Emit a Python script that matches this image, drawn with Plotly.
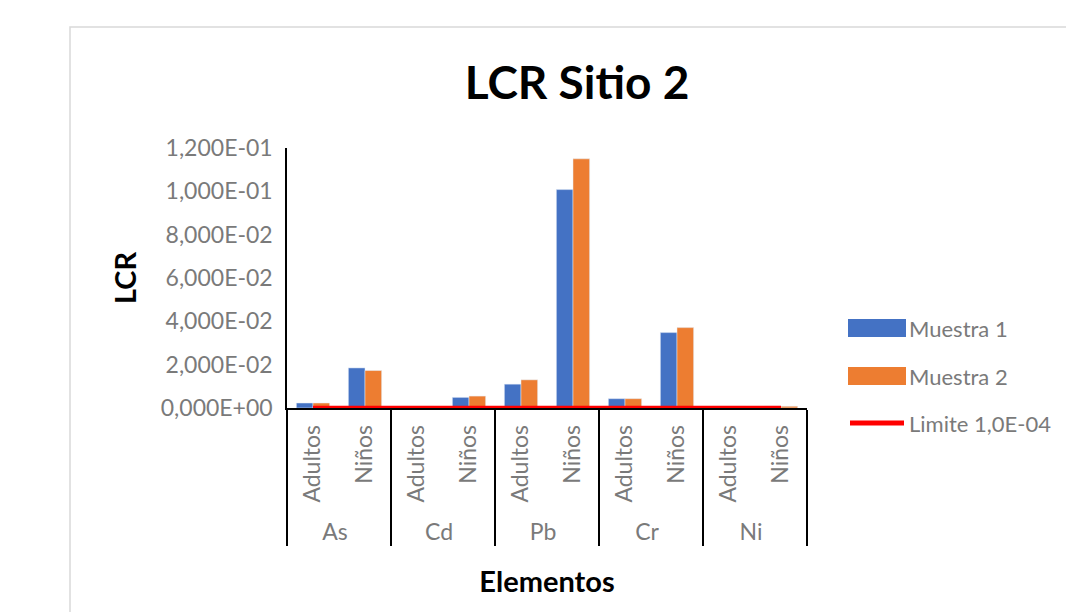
import plotly.graph_objects as go

# ---- data ----
elements = ["As", "Cd", "Pb", "Cr", "Ni"]
groups = ["Adultos", "Niños"]
series_names = ["Muestra 1", "Muestra 2", "Limite 1,0E-04"]
muestra1 = [0.0023, 0.0185, 0.0008, 0.0049, 0.0110, 0.1008, 0.0043, 0.0348, 0.0008, 0.0008]
muestra2 = [0.0023, 0.0173, 0.0008, 0.0055, 0.0130, 0.1150, 0.0043, 0.0371, 0.0008, 0.0008]
limite = [1.0e-4, 1.0e-4, 1.0e-4, 1.0e-4, 1.0e-4, 1.0e-4, 1.0e-4, 1.0e-4, 1.0e-4, 1.0e-4]
y_tickvals = [0, 0.02, 0.04, 0.06, 0.08, 0.10, 0.12]
y_ticktext = ["0,000E+00", "2,000E-02", "4,000E-02", "6,000E-02", "8,000E-02", "1,000E-01", "1,200E-01"]
title_text = "LCR Sitio 2"
x_title = "Elementos"
y_title = "LCR"

# ---- style ----
BLUE = "#4472C4"
ORANGE = "#ED7D31"
RED = "#FF0000"
GRAY = "#7A7A7A"
FONT = "Lato"

W, H = 1074, 612
OFF = 8  # page body margin
L, T = 287 - OFF, 148 - OFF
PW, PH = 520, 260
R, B = W - L - PW, H - T - PH


def px(x):
    return (x - OFF - L) / PW


def py(y):
    return (T + PH - (y - OFF)) / PH


outer = [e for e in elements for g in groups]
inner = [g for e in elements for g in groups]
xcat = [outer, inner]

fig = go.Figure()
fig.add_trace(go.Bar(x=xcat, y=muestra1, name=series_names[0], marker_color=BLUE, showlegend=False))
fig.add_trace(go.Bar(x=xcat, y=muestra2, name=series_names[1], marker_color=ORANGE, showlegend=False))
fig.add_trace(go.Scatter(x=xcat, y=limite, name=series_names[2], mode="lines",
                         line=dict(color=RED, width=4), showlegend=False))

shapes = []
annotations = []
# chart frame
shapes.append(dict(type="rect", xref="paper", yref="paper",
                   x0=px(70), x1=px(1100), y0=py(650), y1=py(27),
                   line=dict(color="#D9D9D9", width=1.5), fillcolor="rgba(0,0,0,0)", layer="below"))
# custom legend (screen pixel positions)
leg_y = [328, 376, 423]
for i, (name, col) in enumerate(zip(series_names, [BLUE, ORANGE, RED])):
    yc = leg_y[i]
    if i < 2:
        shapes.append(dict(type="rect", xref="paper", yref="paper",
                           x0=px(848), x1=px(906), y0=py(yc + 9), y1=py(yc - 9),
                           fillcolor=col, line=dict(width=0)))
    else:
        shapes.append(dict(type="line", xref="paper", yref="paper",
                           x0=px(850), x1=px(904), y0=py(yc), y1=py(yc),
                           line=dict(color=col, width=5)))
    annotations.append(dict(text=name, xref="paper", yref="paper", x=px(907), y=py(yc),
                            xanchor="left", yanchor="middle", showarrow=False,
                            font=dict(family=FONT, size=22, color=GRAY)))

fig.update_layout(
    width=W, height=H,
    margin=dict(l=L, r=R, t=T, b=B, autoexpand=False),
    paper_bgcolor="white", plot_bgcolor="white",
    barmode="group", bargap=0.36, bargroupgap=0,
    title=dict(text="<b>%s</b>" % title_text, xref="container", x=(577 - OFF) / W, y=1 - (83 - OFF) / H,
               xanchor="center", yanchor="middle",
               font=dict(family=FONT, size=46, color="black")),
    shapes=shapes, annotations=annotations,
    font=dict(family=FONT, color=GRAY),
)
fig.update_yaxes(range=[0, 0.12], tickvals=y_tickvals, ticktext=y_ticktext,
                 showgrid=False, zeroline=False, showline=True, linecolor="black", linewidth=1.5,
                 ticks="", tickfont=dict(family=FONT, size=23, color=GRAY), ticklabelstandoff=8,
                 title=dict(text="<b>%s</b>" % y_title, font=dict(family=FONT, size=29, color="black"),
                            standoff=16))
fig.update_xaxes(type="multicategory", showgrid=False, showline=True, linecolor="black", linewidth=1.5,
                 ticks="", tickangle=-90, tickfont=dict(family=FONT, size=23, color=GRAY),
                 ticklabelstandoff=6,
                 showdividers=True, dividercolor="black", dividerwidth=1.5,
                 title=dict(text="<b>%s</b>" % x_title, font=dict(family=FONT, size=29, color="black"),
                            standoff=28))

fig.write_html("out.html")
